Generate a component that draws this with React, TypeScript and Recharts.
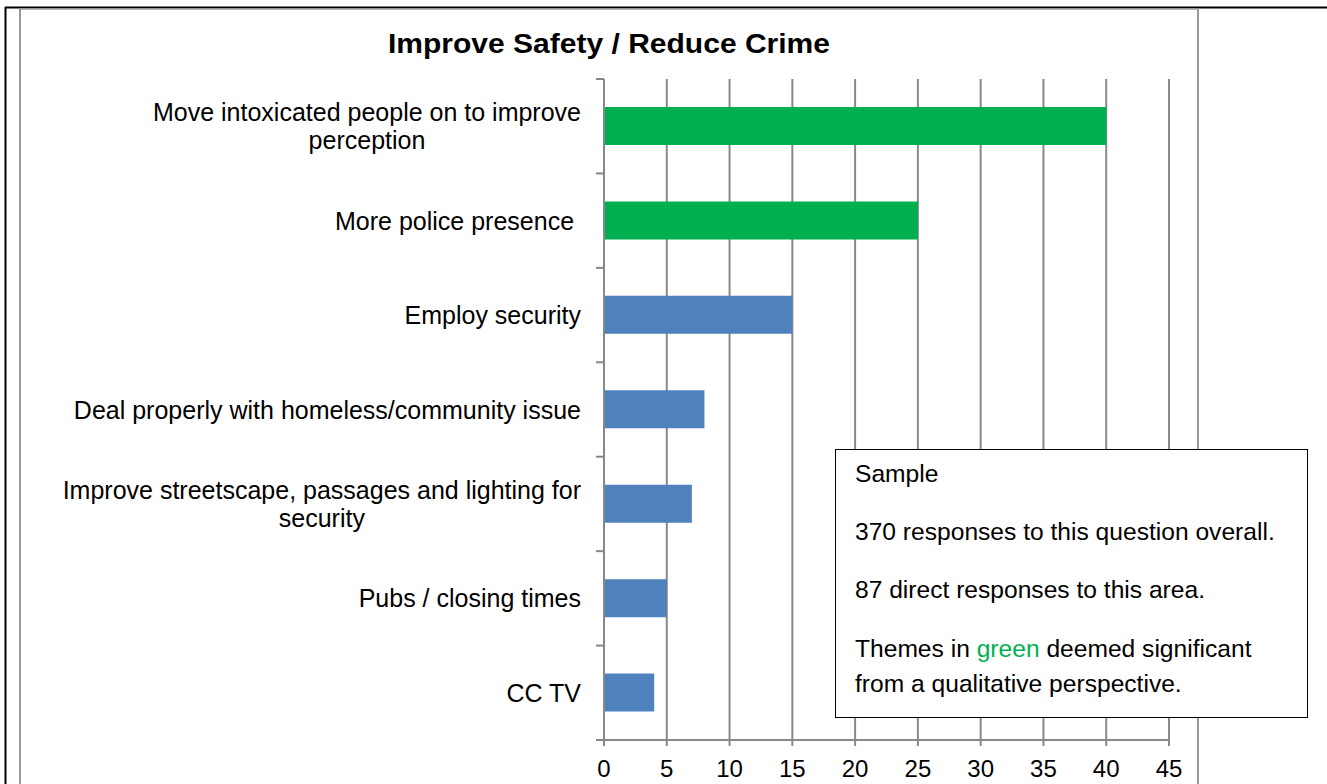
import { BarChart, Bar, XAxis, YAxis, CartesianGrid, Cell } from 'recharts'

const title = 'Improve Safety / Reduce Crime'
const categories = [
  'Move intoxicated people on to improve perception',
  'More police presence ',
  'Employ security',
  'Deal properly with homeless/community issue',
  'Improve streetscape, passages and lighting for security',
  'Pubs / closing times',
  'CC TV',
]
const responses = [40, 25, 15, 8, 7, 5, 4]
const significant = [true, true, false, false, false, false, false]
const xTicks = [0, 5, 10, 15, 20, 25, 30, 35, 40, 45]

const noteTitle = 'Sample'
const noteOverall = '370 responses to this question overall.'
const noteArea = '87 direct responses to this area.'

const GREEN = '#00B050'
const BLUE = '#4F81BD'
const GREY = '#888888'
const FONT = "'Liberation Sans', Arial, sans-serif"

const W = 1327
const H = 784
const TOP = 79
const AXIS_W = 604
const AXIS_H = 44

const data = categories.map((name, i) => ({ name, value: responses[i], hi: significant[i] }))

let ctx: CanvasRenderingContext2D | null = null
function measure(s: string, size: number) {
  if (!ctx) ctx = document.createElement('canvas').getContext('2d')
  if (!ctx) return s.length * size * 0.5
  ctx.font = `${size}px 'Liberation Sans'`
  return ctx.measureText(s).width
}

// break long labels the way the source chart does (about 46 characters a line)
function wrap(label: string, max = 46) {
  const lines: string[] = []
  let cur = ''
  for (const w of label.split(' ')) {
    const next = cur === '' ? w : cur + ' ' + w
    if (next.trim().length > max && cur !== '') {
      lines.push(cur)
      cur = w
    } else cur = next
  }
  lines.push(cur)
  return lines
}

function CategoryTick(props: any) {
  const { x, y, payload, index } = props
  const size = 25
  const lines = wrap(String(payload.value))
  const widest = Math.max(...lines.map((l) => measure(l, size)))
  const right = x - 23
  const half = (H - AXIS_H - TOP) / categories.length / 2
  const lh = 28
  return (
    <g>
      <line x1={x - 8} x2={x} y1={y - half} y2={y - half} stroke={GREY} strokeWidth={2} />
      {index === categories.length - 1 && (
        <line x1={x - 8} x2={x} y1={y + half} y2={y + half} stroke={GREY} strokeWidth={2} />
      )}
      {lines.map((l, i) => (
        <text
          key={i}
          x={lines.length > 1 ? right - widest / 2 : right}
          y={y + (i - (lines.length - 1) / 2) * lh}
          dy="0.36em"
          textAnchor={lines.length > 1 ? 'middle' : 'end'}
          fontSize={size}
          fontFamily={FONT}
          fill="#000"
          style={{ whiteSpace: 'pre' }}
        >
          {l}
        </text>
      ))}
    </g>
  )
}

export default function App() {
  return (
    <div style={{ position: 'absolute', left: 0, top: 0, width: W, height: H, overflow: 'hidden', background: '#fff' }}>
      <div style={{ position: 'absolute', left: 0, top: 0 }}>
        <BarChart
          width={W}
          height={H}
          data={data}
          layout="vertical"
          margin={{ top: TOP, right: W - 1169, bottom: 0, left: 0 }}
        >
          <CartesianGrid horizontal={false} stroke={GREY} strokeWidth={2} />
          <XAxis
            type="number"
            domain={[0, 45]}
            ticks={xTicks}
            height={AXIS_H}
            stroke={GREY}
            strokeWidth={2}
            tickSize={6}
            tickMargin={14}
            tick={{ fill: '#000', fontSize: 24, fontFamily: FONT }}
          />
          <YAxis
            type="category"
            dataKey="name"
            width={AXIS_W}
            stroke={GREY}
            strokeWidth={2}
            tickLine={false}
            tickSize={0}
            tickMargin={0}
            interval={0}
            tick={<CategoryTick />}
          />
          <Bar dataKey="value" barSize={38} isAnimationActive={false}>
            {data.map((d, i) => (
              <Cell key={i} fill={d.hi ? GREEN : BLUE} />
            ))}
          </Bar>
        </BarChart>
      </div>
      <svg width={W} height={H} style={{ position: 'absolute', left: 0, top: 0, pointerEvents: 'none' }}>
        {/* outer page frame */}
        <line x1={5} x2={W} y1={7.5} y2={7.5} stroke="#000" strokeWidth={2} />
        <line x1={5.5} x2={5.5} y1={7} y2={H} stroke="#000" strokeWidth={2} />
        {/* chart frame */}
        <line x1={19.5} x2={1198} y1={9} y2={9} stroke="#999" strokeWidth={1.5} />
        <line x1={20} x2={20} y1={8.5} y2={H} stroke="#999" strokeWidth={2} />
        <line x1={1198} x2={1198} y1={8.5} y2={H} stroke="#999" strokeWidth={2} />

        <text
          x={609}
          y={52.5}
          textAnchor="middle"
          fontSize={27}
          fontWeight="bold"
          fontFamily={FONT}
          textLength={442}
          lengthAdjust="spacingAndGlyphs"
        >
          {title}
        </text>

        <rect x={835.5} y={449.5} width={472} height={268} fill="#fff" stroke="#000" strokeWidth={1} />
        <g fontSize={24.6} fontFamily={FONT} fill="#000">
          <text x={855} y={482}>{noteTitle}</text>
          <text x={855} y={540}>{noteOverall}</text>
          <text x={855} y={598}>{noteArea}</text>
          <text x={855} y={657}>
            Themes in <tspan fill={GREEN}>green</tspan> deemed significant
          </text>
          <text x={855} y={692}>from a qualitative perspective.</text>
        </g>
      </svg>
    </div>
  )
}
